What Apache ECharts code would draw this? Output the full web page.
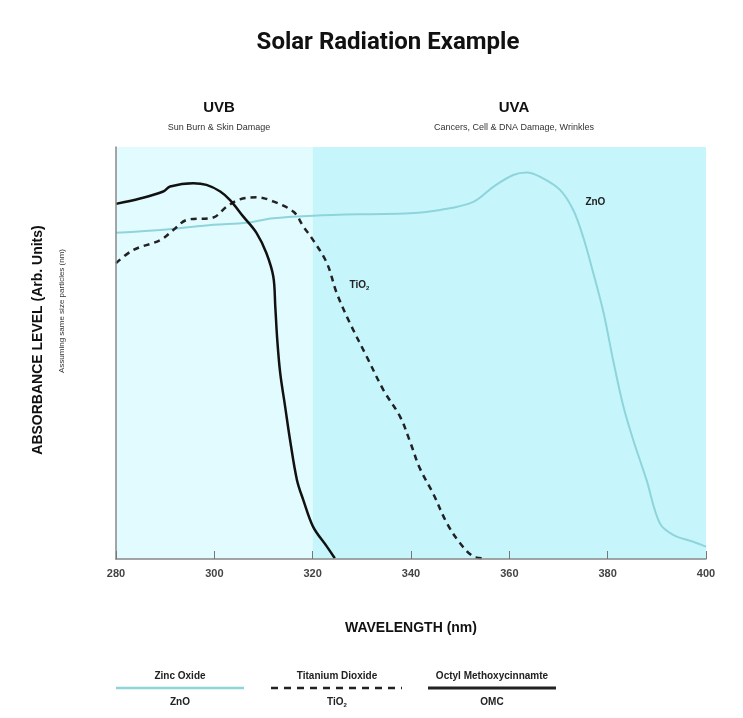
<!DOCTYPE html>
<html>
<head>
<meta charset="utf-8">
<title>Solar Radiation Example</title>
<script src="https://cdn.jsdelivr.net/npm/echarts@6/dist/echarts.min.js"></script>
<style>
  html, body { margin: 0; padding: 0; background: #fff; }
  #main { width: 743px; height: 718px; }
</style>
</head>
<body>
<div id="main"></div>
<script>
  // wavelength ticks
  var xTicks = [280, 300, 320, 340, 360, 380, 400];

  // Octyl Methoxycinnamte (OMC)
  var omcNm  = [280, 284.9, 289.6, 291, 295.7, 298.4, 301.2, 303.2, 305.9, 308.6, 310.6, 312.0, 312.4, 312.8, 313.4, 314.4, 315.4, 316.8, 318.1, 320.1, 322.9, 324.5];
  var omcVal = [86.2, 87.5, 89.2, 90.4, 91.2, 90.8, 89.2, 87.1, 83.1, 79.1, 74.2, 68.5, 61.2, 53.2, 45.1, 37.0, 28.9, 19.2, 14.3, 7.8, 3.0, 0.2];

  // Titanium Dioxide (TiO2)
  var tioNm  = [280, 283.5, 289.0, 291.7, 294.4, 299.8, 302.5, 305.2, 308.6, 311.3, 316.1, 318.1, 320.1, 322.9, 324.9, 327.6, 331.0, 334.4, 337.8, 339.8, 341.8, 344.5, 347.3, 350.0, 352.7, 354.7];
  var tioVal = [71.8, 75.0, 77.4, 79.9, 82.3, 82.9, 85.5, 87.3, 87.8, 87.1, 84.3, 80.7, 77.4, 71.8, 64.5, 57.2, 49.1, 41.0, 34.5, 28.5, 22.0, 15.9, 8.7, 3.8, 0.6, 0.2];

  // Zinc Oxide (ZnO)
  var znoNm  = [280, 290.3, 299.8, 306.6, 312.0, 320.1, 331.0, 339.8, 345.9, 352.7, 356.8, 360.8, 363.5, 366.2, 370.3, 373.0, 375.0, 377.1, 379.2, 381.1, 383.2, 385.2, 387.9, 390.6, 393.4, 397.4, 400];
  var znoVal = [79.2, 80.0, 81.1, 81.6, 82.7, 83.3, 83.7, 83.9, 84.7, 86.7, 90.4, 93.2, 93.8, 92.8, 89.6, 84.7, 78.2, 69.3, 59.6, 48.3, 37.0, 28.9, 19.2, 8.7, 5.8, 4.2, 3.0];

  // UV bands
  var bands = [['UVB', 280, 320], ['UVA', 320, 400]];

  function zip(a, b) {
    return a.map(function (v, i) { return [v, b[i]]; });
  }

  var FONT = 'Liberation Sans, Arial, sans-serif';
  var cyan = '#8fd4db';

  var chart = echarts.init(document.getElementById('main'));
  chart.setOption({
    animation: false,
    backgroundColor: '#fff',
    grid: { left: 116, right: 37, top: 147, bottom: 159 },
    xAxis: {
      type: 'value',
      min: 280,
      max: 400,
      interval: 20,
      z: 10,
      axisLine: { lineStyle: { color: '#888', width: 1.5 } },
      axisTick: { inside: true, length: 8, lineStyle: { color: '#777' } },
      splitLine: { show: false },
      axisLabel: { fontFamily: FONT, fontWeight: 'bold', fontSize: 11, color: '#444', margin: 9 },
      name: 'WAVELENGTH (nm)',
      nameLocation: 'middle',
      nameGap: 62,
      nameTextStyle: { fontFamily: FONT, fontWeight: 'bold', fontSize: 14, color: '#111' }
    },
    yAxis: {
      type: 'value',
      min: 0,
      max: 100,
      z: 10,
      axisLine: { show: true, lineStyle: { color: '#888', width: 1.5 } },
      axisTick: { show: false },
      axisLabel: { show: false },
      splitLine: { show: false }
    },
    graphic: [
      // title
      { type: 'text', x: 388, y: 43, style: { text: 'Solar Radiation Example', align: 'center', verticalAlign: 'middle', font: 'bold 24px Roboto', fill: '#111' } },
      // band headings
      { type: 'text', x: 219, y: 108, style: { text: 'UVB', align: 'center', verticalAlign: 'middle', font: 'bold 15px ' + FONT, fill: '#111' } },
      { type: 'text', x: 219, y: 128, style: { text: 'Sun Burn & Skin Damage', align: 'center', verticalAlign: 'middle', font: '9px ' + FONT, fill: '#333' } },
      { type: 'text', x: 514, y: 108, style: { text: 'UVA', align: 'center', verticalAlign: 'middle', font: 'bold 15px ' + FONT, fill: '#111' } },
      { type: 'text', x: 514, y: 128, style: { text: 'Cancers, Cell & DNA Damage, Wrinkles', align: 'center', verticalAlign: 'middle', font: '9px ' + FONT, fill: '#333' } },
      // y axis titles
      { type: 'text', x: 38, y: 340, rotation: Math.PI / 2, style: { text: 'ABSORBANCE LEVEL (Arb. Units)', align: 'center', verticalAlign: 'middle', font: 'bold 14px ' + FONT, fill: '#111' } },
      { type: 'text', x: 62, y: 311, rotation: Math.PI / 2, style: { text: 'Assuming same size particles (nm)', align: 'center', verticalAlign: 'middle', font: '8px ' + FONT, fill: '#333' } },
      // legend: Zinc Oxide
      { type: 'text', x: 180, y: 676, style: { text: 'Zinc Oxide', align: 'center', verticalAlign: 'middle', font: 'bold 10px ' + FONT, fill: '#222' } },
      { type: 'line', shape: { x1: 116, y1: 688, x2: 244, y2: 688 }, style: { stroke: cyan, lineWidth: 2.5 } },
      { type: 'text', x: 180, y: 702, style: { text: 'ZnO', align: 'center', verticalAlign: 'middle', font: 'bold 10px ' + FONT, fill: '#222' } },
      // legend: Titanium Dioxide
      { type: 'text', x: 337, y: 676, style: { text: 'Titanium Dioxide', align: 'center', verticalAlign: 'middle', font: 'bold 10px ' + FONT, fill: '#222' } },
      { type: 'line', shape: { x1: 271, y1: 688, x2: 402, y2: 688 }, style: { stroke: '#222', lineWidth: 2.5, lineDash: [7, 6] } },
      { type: 'text', x: 337, y: 702, style: { text: '{n|TiO}{s|2}', align: 'center', verticalAlign: 'middle', rich: { n: { font: 'bold 10px ' + FONT, fill: '#222' }, s: { font: 'bold 6px ' + FONT, fill: '#222', padding: [6, 0, 0, 0] } } } },
      // legend: OMC
      { type: 'text', x: 492, y: 676, style: { text: 'Octyl Methoxycinnamte', align: 'center', verticalAlign: 'middle', font: 'bold 10px ' + FONT, fill: '#222' } },
      { type: 'line', shape: { x1: 428, y1: 688, x2: 556, y2: 688 }, style: { stroke: '#222', lineWidth: 3 } },
      { type: 'text', x: 492, y: 702, style: { text: 'OMC', align: 'center', verticalAlign: 'middle', font: 'bold 10px ' + FONT, fill: '#222' } }
    ],
    series: [
      {
        name: 'ZnO',
        type: 'line',
        data: zip(znoNm, znoVal),
        showSymbol: false,
        smooth: 0.35,
        lineStyle: { color: cyan, width: 2 },
        z: 3,
        markArea: {
          silent: true,
          itemStyle: { opacity: 1 },
          data: bands.map(function (b, i) {
            return [
              { xAxis: b[1], itemStyle: { color: i === 0 ? '#e2fbfe' : '#c6f6fc' } },
              { xAxis: b[2] }
            ];
          })
        },
        markPoint: {
          symbol: 'circle',
          symbolSize: 0,
          label: { show: true, formatter: 'ZnO', fontFamily: FONT, fontWeight: 'bold', fontSize: 10, color: '#222' },
          data: [{ coord: [377.5, 86.5] }]
        }
      },
      {
        name: 'TiO2',
        type: 'line',
        data: zip(tioNm, tioVal),
        showSymbol: false,
        smooth: 0.35,
        lineStyle: { color: '#222', width: 2.5, type: [6, 5] },
        z: 4,
        markPoint: {
          symbol: 'circle',
          symbolSize: 0,
          label: {
            show: true,
            formatter: '{n|TiO}{s|2}',
            rich: {
              n: { fontFamily: FONT, fontWeight: 'bold', fontSize: 10, color: '#222' },
              s: { fontFamily: FONT, fontWeight: 'bold', fontSize: 6, color: '#222', padding: [6, 0, 0, 0] }
            }
          },
          data: [{ coord: [329.5, 66.5] }]
        }
      },
      {
        name: 'OMC',
        type: 'line',
        data: zip(omcNm, omcVal),
        showSymbol: false,
        smooth: 0.35,
        lineStyle: { color: '#111', width: 2.5 },
        z: 5
      }
    ]
  });
</script>
</body>
</html>
